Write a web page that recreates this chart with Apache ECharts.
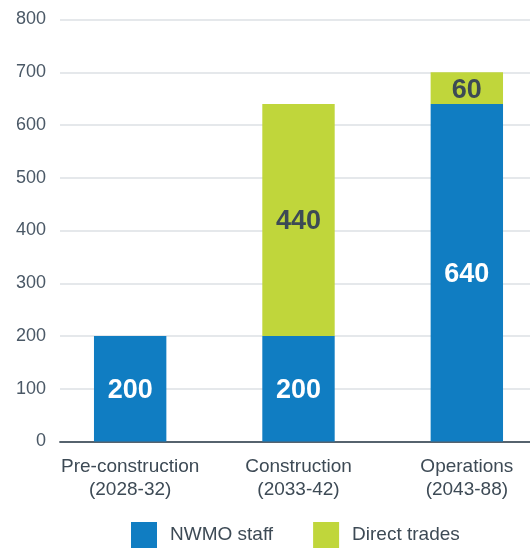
<!DOCTYPE html>
<html><head><meta charset="utf-8">
<script src="https://cdn.jsdelivr.net/npm/echarts@6/dist/echarts.min.js"></script>
<style>html,body{margin:0;padding:0;background:#fff}#c{width:530px;height:548px}</style>
</head><body><div id="c"></div>
<script>
const categories = ['Pre-construction\n(2028-32)', 'Construction\n(2033-42)', 'Operations\n(2043-88)'];
const seriesNames = ['NWMO staff', 'Direct trades'];
const nwmoStaff = [200, 200, 640];
const directTrades = [null, 440, 60];
const yMin = 0, yMax = 800, yStep = 100;

const FONT = 'Liberation Sans, Arial, sans-serif';
const chart = echarts.init(document.getElementById('c'), null, {renderer: 'canvas'});
chart.setOption({
  animation: false,
  textStyle: {fontFamily: FONT},
  grid: [
    {left: 60, right: 0, top: 19.5, bottom: 106.5, outerBoundsMode: 'none'},
    {left: 46, right: -21, top: 19.5, bottom: 106.5, outerBoundsMode: 'none'}
  ],
  xAxis: [
    {gridIndex: 0, type: 'value', min: 0, max: 1, axisLabel: {show: false}, axisTick: {show: false},
     splitLine: {show: false}, axisLine: {show: true, lineStyle: {color: '#56636e', width: 1.8}}},
    {gridIndex: 1, type: 'category', data: categories, axisTick: {show: false}, axisLine: {show: false},
     axisLabel: {color: '#3d4a55', fontSize: 19, fontFamily: FONT, lineHeight: 23, margin: 14, interval: 0}}
  ],
  yAxis: [
    {gridIndex: 0, type: 'value', min: yMin, max: yMax, interval: yStep,
     axisLine: {show: false}, axisTick: {show: false},
     axisLabel: {color: '#4a5866', fontSize: 18, fontFamily: FONT, margin: 14},
     splitLine: {lineStyle: {color: '#dde1e4', width: 1.5}}},
    {gridIndex: 1, type: 'value', min: yMin, max: yMax, interval: yStep, show: false, splitLine: {show: false}}
  ],
  legend: {
    left: 131, top: 522, padding: 0, itemWidth: 26, itemHeight: 26, itemGap: 40, icon: 'rect',
    textStyle: {color: '#3d4a55', fontSize: 19, fontFamily: FONT, padding: [0, 0, 0, 8]},
    data: seriesNames
  },
  series: [
    {name: seriesNames[0], type: 'bar', stack: 'total', xAxisIndex: 1, yAxisIndex: 1, data: nwmoStaff,
     barWidth: '43%', itemStyle: {color: '#107dc2'},
     label: {show: true, position: 'inside', offset: [0, 2], color: '#ffffff', fontSize: 27, fontWeight: 'bold', fontFamily: FONT}},
    {name: seriesNames[1], type: 'bar', stack: 'total', xAxisIndex: 1, yAxisIndex: 1, data: directTrades,
     barWidth: '43%', itemStyle: {color: '#c0d63b'},
     label: {show: true, position: 'inside', offset: [0, 2], color: '#3d4a55', fontSize: 27, fontWeight: 'bold', fontFamily: FONT}}
  ]
});
</script></body></html>
